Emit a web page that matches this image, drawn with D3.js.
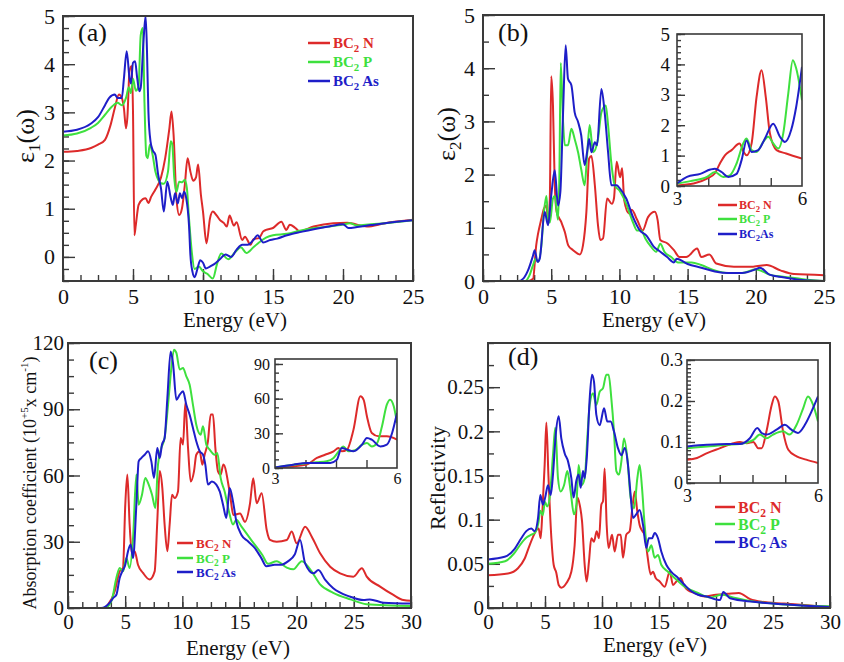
<!DOCTYPE html>
<html><head><meta charset="utf-8">
<script src="https://cdn.jsdelivr.net/npm/d3@7/dist/d3.min.js"></script>
<style>body{margin:0;background:#fff} svg{display:block} svg text, svg tspan{font-family:"Liberation Serif", Tinos, serif !important}</style>
</head><body><svg id="c" width="844" height="662" font-family="Liberation Serif"></svg>
<script>
// ---------- series names / colours ----------
const seriesLabels = [["BC","2"," N"],["BC","2"," P"],["BC","2"," As"]];
const seriesLabelsB = [["BC","2"," N"],["BC","2"," P"],["BC","2","As"]];
const seriesColors = ["#dd2a2a","#3ee03e","#1e1ec8"];

// ---------- (a) real part eps1 ----------
const eps1_BC2N = [[0,2.18],[1,2.2],[2,2.26],[2.5,2.33],[3,2.43],[3.4,2.74],[3.7,3.09],[4.0,3.37],[4.2,3.3],[4.35,3.09],[4.5,2.67],[4.6,2.9],[4.75,3.85],[4.9,3.96],[5.0,3.02],[5.1,0.45],[5.2,0.66],[5.4,1.08],[5.7,1.2],[5.9,1.22],[6.1,1.12],[6.3,1.25],[6.6,1.4],[7.0,1.65],[7.3,2.05],[7.6,2.67],[7.75,3.02],[7.9,2.53],[8.1,1.22],[8.3,0.87],[8.5,1.01],[8.7,1.49],[8.9,2.05],[9.1,1.77],[9.3,1.58],[9.5,1.65],[9.65,1.92],[9.85,1.29],[10.0,0.94],[10.25,0.28],[10.5,0.8],[10.7,0.94],[11.0,0.85],[11.2,0.77],[11.5,0.7],[11.7,0.63],[11.9,0.86],[12.2,0.65],[12.4,0.72],[12.8,0.35],[13.0,0.42],[13.4,0.25],[13.6,0.37],[14.0,0.39],[14.3,0.53],[14.5,0.56],[15.0,0.6],[15.6,0.73],[15.95,0.56],[16.2,0.67],[16.6,0.6],[16.9,0.53],[17.9,0.63],[19.3,0.7],[20.3,0.71],[21.7,0.63],[23,0.7],[25,0.77]];
const eps1_BC2P = [[0,2.52],[1,2.56],[2,2.68],[2.5,2.78],[3,2.95],[3.5,3.12],[3.9,3.2],[4.2,3.15],[4.5,3.3],[4.7,3.52],[4.85,3.4],[5.0,3.7],[5.2,3.45],[5.4,3.55],[5.55,4.6],[5.7,4.75],[5.82,3.2],[5.95,2.1],[6.05,2.05],[6.2,2.33],[6.4,2.12],[6.6,1.77],[6.8,1.6],[7.0,1.53],[7.2,1.52],[7.5,1.77],[7.7,2.4],[7.8,2.35],[7.95,1.63],[8.1,1.35],[8.3,1.56],[8.5,1.55],[8.7,1.6],[8.85,1.42],[9.0,0.8],[9.2,0.1],[9.4,-0.25],[9.7,-0.2],[10.0,-0.3],[10.3,-0.35],[10.7,-0.45],[11.0,-0.15],[11.3,0.07],[11.8,-0.05],[12.3,0.1],[12.7,0.2],[13.1,0.08],[13.6,0.2],[14,0.3],[14.5,0.4],[15,0.45],[16,0.48],[17,0.55],[18,0.6],[19,0.63],[20,0.67],[20.5,0.7],[21,0.65],[22,0.68],[23,0.7],[25,0.76]];
const eps1_BC2As = [[0,2.6],[1,2.64],[2,2.77],[2.5,2.9],[3,3.15],[3.3,3.3],[3.7,3.37],[3.9,3.3],[4.2,3.3],[4.35,3.7],[4.55,4.27],[4.75,3.71],[4.85,3.6],[5.0,4.03],[5.15,4.06],[5.3,3.71],[5.45,3.44],[5.55,3.51],[5.75,4.48],[5.9,5.0],[6.0,4.27],[6.1,3.02],[6.25,2.4],[6.4,2.22],[6.6,2.12],[6.8,1.7],[7.0,1.42],[7.2,0.94],[7.45,1.56],[7.7,1.22],[7.85,1.08],[8.0,1.32],[8.2,1.11],[8.35,1.32],[8.5,1.22],[8.65,1.35],[8.8,1.22],[9.0,0.66],[9.1,0.04],[9.25,-0.31],[9.4,-0.42],[9.6,-0.25],[9.8,-0.07],[10.0,-0.12],[10.2,-0.24],[10.5,-0.2],[10.8,-0.15],[11.2,-0.05],[11.6,0.05],[12,0.0],[12.4,0.15],[12.8,0.25],[13.2,0.25],[13.6,0.35],[13.9,0.45],[14.3,0.3],[14.8,0.35],[15.3,0.38],[16,0.45],[17,0.52],[18,0.58],[19,0.63],[20,0.68],[20.4,0.6],[21,0.62],[22,0.66],[23,0.7],[25,0.76]];

// ---------- (b) imaginary part eps2 ----------
const eps2_BC2N = [[0,0],[3.3,0],[3.67,0.04],[3.9,0.67],[4.03,0.88],[4.28,1.17],[4.47,1.36],[4.65,1.42],[4.77,1.1],[4.9,1.55],[5.0,3.85],[5.13,3.3],[5.25,1.92],[5.4,1.3],[5.75,1.1],[6.0,0.92],[6.25,0.67],[6.6,0.58],[7.1,0.5],[7.33,0.67],[7.58,1.3],[7.78,2.3],[7.95,2.35],[8.2,1.8],[8.43,1.05],[8.6,0.77],[8.8,0.8],[9.1,1.55],[9.45,1.45],[9.6,1.55],[9.8,2.24],[10.05,1.95],[10.2,2.12],[10.35,1.52],[10.7,1.27],[10.9,1.34],[11.3,1.15],[11.7,0.95],[12.1,1.2],[12.6,1.3],[12.8,1.15],[13.0,0.77],[13.5,0.71],[14.0,0.58],[14.4,0.45],[14.9,0.45],[15.7,0.61],[16.0,0.45],[16.6,0.5],[17.1,0.33],[18.4,0.27],[19.8,0.27],[20.8,0.3],[21.8,0.2],[22.8,0.13],[25,0.11]];
const eps2_BC2P = [[0,0],[3.1,0],[3.4,0.1],[3.67,0.3],[3.86,0.42],[4.03,0.36],[4.28,0.67],[4.47,1.3],[4.65,1.6],[4.77,1.17],[4.9,1.1],[5.13,1.55],[5.26,1.6],[5.5,1.15],[5.6,2.0],[5.7,4.1],[5.87,2.99],[6.0,2.55],[6.23,2.55],[6.48,2.86],[6.72,2.67],[6.97,2.42],[7.2,2.1],[7.45,1.8],[7.63,2.36],[7.82,2.93],[8.07,2.42],[8.43,2.67],[8.68,3.17],[9.0,3.3],[9.17,2.93],[9.4,2.24],[9.66,1.8],[10,1.7],[10.5,1.45],[11,1.1],[11.3,0.95],[11.6,0.95],[11.9,0.8],[12.3,0.65],[12.7,0.55],[13,0.7],[13.3,0.55],[13.8,0.45],[14.3,0.35],[14.7,0.35],[15.3,0.35],[16,0.3],[17,0.2],[18,0.15],[19,0.15],[20,0.22],[20.3,0.2],[21,0.12],[22,0.08],[23,0.05],[24,0.02],[25,0.0]];
const eps2_BC2As = [[0,0],[2.6,0],[2.93,0.04],[3.3,0.2],[3.67,0.48],[3.79,0.58],[4.0,0.36],[4.16,0.42],[4.52,1.3],[4.77,1.05],[5.0,1.6],[5.26,2.08],[5.5,1.42],[5.67,1.67],[5.87,3.17],[6.06,4.43],[6.23,3.8],[6.48,3.68],[6.72,3.17],[6.97,2.99],[7.2,2.74],[7.45,2.18],[7.63,2.42],[7.78,2.67],[7.95,2.42],[8.2,2.61],[8.36,2.55],[8.68,3.61],[8.92,3.17],[9.17,2.42],[9.41,1.8],[9.8,1.8],[10,1.75],[10.5,1.55],[11,1.2],[11.5,0.95],[12,0.85],[12.5,0.65],[13,0.55],[13.5,0.45],[14,0.35],[14.2,0.42],[15,0.32],[16,0.25],[17,0.18],[18,0.15],[19,0.15],[20,0.22],[20.3,0.25],[21,0.12],[22,0.07],[23,0.03],[25,0.0]];
const eps2In_BC2N = [[3,0.02],[3.4,0.08],[3.72,0.24],[3.91,0.42],[4.03,0.74],[4.15,1.01],[4.31,1.18],[4.5,1.4],[4.6,1.12],[4.67,1.01],[4.79,1.4],[4.91,2.93],[5.03,3.81],[5.13,2.93],[5.23,1.73],[5.39,1.18],[5.62,1.07],[6,0.9]];
const eps2In_BC2P = [[3,0.08],[3.32,0.16],[3.72,0.3],[3.91,0.46],[4.11,0.3],[4.27,0.35],[4.43,0.74],[4.59,1.4],[4.67,1.56],[4.79,1.18],[4.91,1.12],[5.07,1.45],[5.19,1.62],[5.31,1.4],[5.43,1.23],[5.55,1.73],[5.67,3.04],[5.78,4.14],[5.86,3.87],[6,2.82]];
const eps2In_BC2As = [[3,0.08],[3.24,0.3],[3.56,0.4],[3.8,0.54],[3.91,0.57],[4.07,0.46],[4.23,0.3],[4.43,0.4],[4.55,0.85],[4.67,1.5],[4.79,1.12],[4.95,1.18],[5.11,1.56],[5.31,2.05],[5.47,1.62],[5.59,1.45],[5.74,1.84],[5.86,2.6],[6,3.92]];

// ---------- (c) absorption coefficient ----------
const abs_BC2N = [[0,0],[3.2,0],[3.5,1.5],[4.08,7.5],[4.52,16.6],[4.81,18.1],[5.01,46.8],[5.19,60.4],[5.39,37.8],[5.6,24.2],[5.83,25.7],[6.12,19.6],[6.56,15.9],[7.14,12.9],[7.58,16.6],[7.81,39.3],[8.02,62],[8.25,54.3],[8.45,37.8],[8.69,25.7],[8.89,37.8],[9.1,51.3],[9.33,49.8],[9.62,52.8],[9.85,77],[10.06,74],[10.26,92.8],[10.5,72.4],[10.73,57.3],[11.02,61.9],[11.22,69.4],[11.52,71],[11.75,64.9],[11.95,69.4],[12.24,75.5],[12.48,87.6],[12.68,87.6],[12.89,72.4],[13.12,61.9],[13.35,60.4],[13.59,65],[14.17,51.5],[14.46,42.1],[15.05,42.8],[15.48,39],[15.92,47.4],[16.2,58.7],[16.5,47.4],[16.94,52],[17.38,35.3],[17.67,30.8],[18.25,30],[19.13,30.8],[19.57,34.6],[20,29.3],[20.74,36.8],[21.32,32.3],[22.05,24.8],[22.93,18.7],[23.8,15.7],[24.96,14.2],[25.7,18],[26.13,14.2],[27.3,9.7],[28.46,5.9],[29.34,3.6],[30,3.3]];
const abs_BC2P = [[0,0],[3.2,0],[3.79,3.0],[4.23,13.6],[4.52,18.1],[4.81,16.6],[5.1,22.6],[5.39,18.1],[5.69,31.7],[5.98,60.4],[6.18,46.8],[6.47,51.3],[6.76,58.9],[7.06,55.9],[7.35,51.3],[7.64,45.3],[7.87,64.9],[8.16,72.4],[8.45,77],[8.75,92],[9.04,108.7],[9.27,117],[9.48,115.5],[9.77,108],[10.06,108.7],[10.35,104.9],[10.64,101.1],[10.93,92],[11.22,83],[11.6,78.5],[11.81,82.3],[12.1,74],[12.39,71.7],[12.83,69.4],[13.06,70.2],[13.35,58.9],[13.7,52.8],[14.14,42.3],[14.43,37.8],[14.72,40],[15.16,37],[16,31],[17,24],[17.5,20],[18.25,21.2],[19.13,18.3],[19.7,17.5],[20.45,21.2],[21.18,17.5],[22.05,10.7],[23.2,6.9],[24.7,3.9],[26.1,1.7],[30,0.9]];
const abs_BC2As = [[0,0],[2.9,0],[3.64,2.3],[3.94,4.5],[4.23,6],[4.52,13.6],[4.75,16.6],[5.01,19.6],[5.25,25.7],[5.48,28.7],[5.69,22.6],[5.98,46.8],[6.18,66.4],[6.41,67.9],[6.71,69.4],[7.0,71],[7.29,66.4],[7.52,58.9],[7.81,72.4],[8.02,67.9],[8.22,74],[8.45,77],[8.69,95],[8.98,116.2],[9.18,111],[9.48,94.3],[9.77,96.6],[10.06,98.1],[10.35,92],[10.64,87.5],[10.93,81.5],[11.22,75.5],[11.52,71],[11.81,69.4],[12.01,64.9],[12.24,55.9],[12.59,57.3],[12.97,55.9],[13.27,52.8],[13.56,46.8],[13.85,40.8],[14.14,54.3],[14.43,48.3],[14.72,39.3],[15.16,33.2],[15.74,30.2],[16.33,27.2],[16.91,22.6],[17.35,18.9],[18.08,19.6],[18.66,19.6],[19.24,21.1],[19.83,24.2],[20.3,30.8],[20.74,20.2],[21.47,15.7],[21.9,17.2],[22.5,12.7],[23.2,8.9],[24.7,5.1],[25.84,3.6],[26.4,3.9],[27.6,2.4],[30,2]];
const absIn_BC2N = [[3,0.5],[3.45,1.4],[3.78,2.9],[4.03,8.7],[4.23,11.5],[4.44,14.4],[4.56,17.3],[4.64,14.4],[4.77,15.9],[4.93,33.2],[5.1,62],[5.18,59],[5.26,44.7],[5.38,30.3],[5.55,27.4],[5.75,27.4],[6,24.5]];
const absIn_BC2P = [[3,0.5],[3.62,3.5],[4.03,4.9],[4.27,5.8],[4.44,8.7],[4.6,15.9],[4.68,18.7],[4.81,14.4],[4.97,15.3],[5.14,20.2],[5.26,21.6],[5.38,18.7],[5.51,21.6],[5.63,36],[5.75,54.8],[5.83,59.1],[5.92,53.4],[6,39]];
const absIn_BC2As = [[3,0.5],[3.45,2.9],[3.78,4.3],[4.03,4.3],[4.36,4.3],[4.52,7.2],[4.64,17.3],[4.77,15.9],[4.93,14.4],[5.14,20.2],[5.26,26],[5.38,24.5],[5.59,18.7],[5.75,20.2],[5.88,30.3],[6,47.6]];

// ---------- (d) reflectivity ----------
const refl_BC2N = [[0,0.037],[1.75,0.039],[2.63,0.045],[3.22,0.056],[3.65,0.071],[4.04,0.083],[4.24,0.088],[4.44,0.09],[4.62,0.079],[4.77,0.109],[4.97,0.162],[5.12,0.21],[5.3,0.15],[5.56,0.079],[5.76,0.049],[5.99,0.04],[6.2,0.026],[6.43,0.023],[6.87,0.028],[7.31,0.041],[7.6,0.071],[7.84,0.125],[8.04,0.117],[8.25,0.098],[8.48,0.049],[8.65,0.03],[8.86,0.053],[9.06,0.079],[9.3,0.075],[9.53,0.087],[9.74,0.079],[9.94,0.117],[10.09,0.121],[10.23,0.158],[10.41,0.094],[10.58,0.068],[10.88,0.083],[11.11,0.064],[11.4,0.083],[11.64,0.083],[11.84,0.057],[12.13,0.083],[12.43,0.087],[12.66,0.113],[12.87,0.132],[13.1,0.109],[13.3,0.094],[13.54,0.087],[13.74,0.083],[13.98,0.06],[14.27,0.038],[14.47,0.041],[14.71,0.034],[15.06,0.03],[15.5,0.024],[15.94,0.041],[16.23,0.026],[16.52,0.03],[16.9,0.034],[17.25,0.024],[17.54,0.02],[18.13,0.017],[19,0.013],[20,0.015],[21,0.016],[22,0.017],[23,0.01],[24,0.007],[26,0.005],[28,0.003],[30,0.001]];
const refl_BC2P = [[0,0.05],[1.5,0.053],[2.3,0.062],[2.9,0.073],[3.4,0.08],[3.8,0.083],[4.1,0.085],[4.4,0.095],[4.6,0.11],[4.8,0.105],[5.0,0.12],[5.2,0.115],[5.41,0.125],[5.7,0.173],[5.9,0.204],[6.14,0.147],[6.37,0.132],[6.67,0.139],[6.96,0.155],[7.25,0.132],[7.54,0.106],[7.75,0.117],[7.95,0.162],[8.19,0.139],[8.48,0.147],[8.71,0.192],[8.92,0.23],[9.21,0.243],[9.5,0.23],[9.8,0.245],[10.09,0.249],[10.38,0.264],[10.58,0.264],[10.82,0.237],[11.05,0.2],[11.26,0.155],[11.49,0.151],[11.7,0.166],[11.93,0.192],[12.22,0.17],[12.51,0.125],[12.81,0.113],[13.1,0.147],[13.3,0.162],[13.51,0.136],[13.74,0.094],[14.04,0.064],[14.33,0.071],[14.62,0.057],[14.91,0.06],[15.2,0.049],[15.79,0.041],[16.37,0.034],[17.25,0.024],[18.42,0.017],[19.5,0.012],[20.5,0.015],[21.5,0.012],[23,0.008],[26,0.004],[30,0.002]];
const refl_BC2As = [[0,0.055],[1.46,0.058],[2.34,0.067],[2.92,0.079],[3.36,0.087],[3.8,0.09],[4.09,0.087],[4.39,0.102],[4.59,0.128],[4.82,0.117],[5.03,0.126],[5.26,0.139],[5.5,0.128],[5.7,0.151],[5.94,0.196],[6.2,0.217],[6.43,0.192],[6.73,0.175],[7.02,0.166],[7.31,0.147],[7.51,0.125],[7.75,0.144],[7.95,0.151],[8.13,0.136],[8.33,0.155],[8.48,0.147],[8.68,0.173],[8.92,0.237],[9.12,0.264],[9.3,0.256],[9.5,0.219],[9.8,0.207],[10.18,0.226],[10.47,0.211],[10.76,0.211],[11.05,0.2],[11.4,0.181],[11.7,0.173],[12.0,0.181],[12.28,0.162],[12.51,0.128],[12.72,0.102],[13.0,0.106],[13.3,0.111],[13.6,0.094],[13.89,0.068],[14.1,0.079],[14.39,0.079],[14.62,0.085],[14.91,0.079],[15.2,0.064],[15.64,0.049],[16.08,0.041],[16.67,0.034],[17.25,0.026],[17.84,0.019],[18.42,0.015],[19.18,0.013],[20.35,0.009],[20.64,0.018],[21.23,0.011],[23.27,0.007],[26.2,0.004],[30,0.001]];
const reflIn_BC2N = [[3,0.057],[3.23,0.061],[3.46,0.073],[3.76,0.085],[4.06,0.097],[4.21,0.1],[4.37,0.097],[4.52,0.1],[4.63,0.085],[4.71,0.085],[4.82,0.126],[4.94,0.19],[5.01,0.211],[5.09,0.199],[5.2,0.126],[5.32,0.081],[5.51,0.065],[5.73,0.057],[6,0.049]];
const reflIn_BC2P = [[3,0.085],[3.46,0.089],[3.91,0.093],[4.21,0.095],[4.52,0.105],[4.67,0.118],[4.82,0.109],[4.97,0.118],[5.2,0.126],[5.35,0.118],[5.51,0.142],[5.66,0.182],[5.77,0.211],[5.89,0.19],[6,0.15]];
const reflIn_BC2As = [[3,0.089],[3.46,0.093],[3.91,0.095],[4.21,0.095],[4.44,0.109],[4.61,0.134],[4.71,0.122],[4.82,0.118],[5.05,0.13],[5.24,0.142],[5.39,0.13],[5.54,0.122],[5.7,0.142],[5.85,0.174],[6,0.211]];

// ---------- tick labels ----------
const ticksE25 = [0,5,10,15,20,25];
const ticksE30 = [0,5,10,15,20,25,30];
const ticksEps = [0,1,2,3,4,5];
const ticksAbs = [0,30,60,90,120];
const ticksRefl = [0,0.05,0.1,0.15,0.2,0.25];
const ticksInsetE = [3,6];
const ticksAbsIn = [0,30,60,90];
const ticksReflIn = [0,0.1,0.2,0.3];

// ---------- drawing ----------
const svg = d3.select("#c");
const SERIF = '"Liberation Serif", Tinos, serif';
const FRAME = "#3a3a3a";
let clipN = 0;

function tickMarks(sel){
  sel.select(".domain").remove();
  sel.attr("font-family", null).attr("font-size", null);
  sel.selectAll(".tick text").remove();
  sel.selectAll(".tick line").attr("stroke", FRAME).attr("stroke-width", 1.4);
}
function tickLabels(sel, fs){
  sel.select(".domain").remove();
  sel.attr("font-family", null).attr("font-size", null);
  sel.selectAll(".tick line").remove();
  sel.selectAll(".tick text").attr("fill", "#111").attr("font-size", fs).style("font-family", SERIF);
}

function drawPanel(p){
  const x = d3.scaleLinear().domain(p.xDomain).range([p.left, p.right]);
  const y = d3.scaleLinear().domain(p.yDomain).range([p.bottom, p.top]);
  const g = svg.append("g");
  if (p.inset) g.append("rect").attr("x",p.left).attr("y",p.top).attr("width",p.right-p.left).attr("height",p.bottom-p.top).attr("fill","#fff");
  const cid = "clip" + (clipN++);
  svg.append("clipPath").attr("id", cid).append("rect")
    .attr("x",p.left).attr("y",p.top).attr("width",p.right-p.left).attr("height",p.bottom-p.top);
  if (p.xMinor.length) g.append("g").attr("transform",`translate(0,${p.bottom})`)
    .call(d3.axisBottom(x).tickValues(p.xMinor).tickSize(-p.minorLen)).call(tickMarks);
  g.append("g").attr("transform",`translate(${p.left},0)`)
    .call(d3.axisLeft(y).tickValues(p.yMinor).tickSize(-p.minorLen)).call(tickMarks);
  g.append("g").attr("transform",`translate(0,${p.bottom})`)
    .call(d3.axisBottom(x).tickValues(p.xMajorTicks).tickSize(-p.majorLen)).call(tickMarks);
  g.append("g").attr("transform",`translate(${p.left},0)`)
    .call(d3.axisLeft(y).tickValues(p.yMajorTicks).tickSize(-p.majorLen)).call(tickMarks);
  g.append("g").attr("transform",`translate(0,${p.bottom})`)
    .call(d3.axisBottom(x).tickValues(p.xLabels).tickSize(0).tickPadding(p.xPad).tickFormat(d3.format("~g")))
    .call(s=>tickLabels(s,p.fs));
  g.append("g").attr("transform",`translate(${p.left},0)`)
    .call(d3.axisLeft(y).tickValues(p.yLabels).tickSize(0).tickPadding(p.yPad).tickFormat(d3.format("~g")))
    .call(s=>tickLabels(s,p.fs));
  const line = d3.line().x(d=>x(d[0])).y(d=>y(d[1])).curve(d3.curveMonotoneX);
  p.series.forEach((s,i)=>{
    g.append("path").attr("d", line(s)).attr("fill","none")
      .attr("stroke", seriesColors[i]).attr("stroke-width", p.lw).attr("stroke-linejoin","round")
      .attr("clip-path", `url(#${cid})`);
  });
  g.append("rect").attr("x",p.left).attr("y",p.top).attr("width",p.right-p.left).attr("height",p.bottom-p.top)
    .attr("fill","none").attr("stroke",FRAME).attr("stroke-width",p.inset?1.6:2);
}

function txt(x, y, fs, opts={}){
  const t = svg.append("text").attr("x",x).attr("y",y).attr("font-size",fs)
    .attr("fill", opts.fill||"#111").attr("text-anchor",opts.anchor||"middle")
    .style("font-family", SERIF);
  if (opts.bold) t.attr("font-weight","bold");
  if (opts.rotate) t.attr("transform",`rotate(-90,${x},${y})`);
  return t;
}

function legend(x1, x2, tx, ys, fs, labels){
  labels.forEach((lab,i)=>{
    svg.append("line").attr("x1",x1).attr("x2",x2).attr("y1",ys[i]).attr("y2",ys[i])
      .attr("stroke",seriesColors[i]).attr("stroke-width",2.5);
    const t = txt(tx, ys[i] + fs*0.35, fs, {anchor:"start", bold:true, fill:seriesColors[i]});
    t.append("tspan").text(lab[0]);
    t.append("tspan").attr("dy", fs*0.25).attr("font-size", fs*0.72).text(lab[1]);
    t.append("tspan").attr("dy", -fs*0.25).text(lab[2]);
  });
}

const rng = (a,b,s)=>d3.range(a, b+s/2, s);

// (a)
drawPanel({left:63,right:413,top:16,bottom:281,xDomain:[0,25],yDomain:[-0.5,5],
  xMinor:rng(0,25,1.25),yMinor:rng(-0.5,5,0.25),xMajorTicks:ticksE25,yMajorTicks:ticksEps,
  xLabels:ticksE25,yLabels:ticksEps,xPad:7,yPad:8,fs:22,
  minorLen:6,majorLen:12,lw:2,series:[eps1_BC2N,eps1_BC2P,eps1_BC2As]});
// (b)
drawPanel({left:483,right:824,top:15,bottom:281,xDomain:[0,25],yDomain:[0,5],
  xMinor:rng(0,25,1.25),yMinor:rng(0,5,0.5),xMajorTicks:ticksE25,yMajorTicks:ticksEps,
  xLabels:ticksE25,yLabels:ticksEps,xPad:7,yPad:8,fs:22,
  minorLen:6,majorLen:12,lw:2,series:[eps2_BC2N,eps2_BC2P,eps2_BC2As]});
drawPanel({inset:true,left:677,right:802,top:34,bottom:186,xDomain:[3,6],yDomain:[0,5],
  xMinor:[],yMinor:rng(0,5,0.2),xMajorTicks:[3.75,4.5,5.25],yMajorTicks:ticksEps,
  xLabels:ticksInsetE,yLabels:ticksEps,xPad:6,yPad:7,fs:19,
  minorLen:4,majorLen:8,lw:2,series:[eps2In_BC2N,eps2In_BC2P,eps2In_BC2As]});
// (c)
drawPanel({left:68,right:411,top:343,bottom:608,xDomain:[0,30],yDomain:[0,120],
  xMinor:rng(0,30,1.25),yMinor:rng(0,120,7.5),xMajorTicks:ticksE30,yMajorTicks:ticksAbs,
  xLabels:ticksE30,yLabels:ticksAbs,xPad:6,yPad:4,fs:21,
  minorLen:6,majorLen:12,lw:2,series:[abs_BC2N,abs_BC2P,abs_BC2As]});
drawPanel({inset:true,left:275,right:397,top:359,bottom:468,xDomain:[3,6],yDomain:[0,94.3],
  xMinor:[],yMinor:rng(0,90,7.5),xMajorTicks:[3.75,4.5,5.25],yMajorTicks:ticksAbsIn,
  xLabels:ticksInsetE,yLabels:ticksAbsIn,xPad:5,yPad:5,fs:16,
  minorLen:4,majorLen:8,lw:2,series:[absIn_BC2N,absIn_BC2P,absIn_BC2As]});
// (d)
drawPanel({left:488,right:830,top:343,bottom:608,xDomain:[0,30],yDomain:[0,0.3],
  xMinor:rng(0,30,1.25),yMinor:rng(0,0.3,0.025),xMajorTicks:ticksE30,yMajorTicks:ticksRefl,
  xLabels:ticksE30,yLabels:ticksRefl,xPad:6,yPad:4,fs:21,
  minorLen:6,majorLen:12,lw:2,series:[refl_BC2N,refl_BC2P,refl_BC2As]});
drawPanel({inset:true,left:687,right:818,top:360,bottom:483,xDomain:[3,6],yDomain:[0,0.3],
  xMinor:[],yMinor:rng(0,0.3,0.01),xMajorTicks:[3.75,4.5,5.25],yMajorTicks:ticksReflIn,
  xLabels:ticksInsetE,yLabels:ticksReflIn,xPad:6,yPad:4,fs:18,
  minorLen:4,majorLen:8,lw:2,series:[reflIn_BC2N,reflIn_BC2P,reflIn_BC2As]});

// legends
legend(308,330,333,[43,62,81],15,seriesLabels);
legend(718,737,739,[205,219,234],12,seriesLabelsB);
legend(177,193,196,[543,558,572],13,seriesLabels);
legend(715,735,738,[507,524,542],16,seriesLabels);

// panel tags
txt(78,41,26,{anchor:"start"}).text("(a)");
txt(498,41,26,{anchor:"start"}).text("(b)");
txt(89,369,26,{anchor:"start"}).text("(c)");
txt(508,365,26,{anchor:"start"}).text("(d)");

// axis titles
txt(235,327,21).text("Energy (eV)");
txt(654,327,21).text("Energy (eV)");
txt(238,655,21).text("Energy (eV)");
txt(655,652,21).text("Energy (eV)");

function epsLabel(x, y, sub){
  const t = txt(x, y, 26, {rotate:true});
  t.append("tspan").text("ε");
  t.append("tspan").attr("dy",6).attr("font-size",17).text(sub);
  t.append("tspan").attr("dy",-6).text("(ω)");
}
epsLabel(34,136,"1");
epsLabel(455,134,"2");
{
  const t = txt(36,483,18,{rotate:true});
  t.append("tspan").text("Absorption coefficient (10");
  t.append("tspan").attr("dy",-8).attr("font-size",11).text("+5");
  t.append("tspan").attr("dy",8).text("x cm");
  t.append("tspan").attr("dy",-8).attr("font-size",11).text("-1");
  t.append("tspan").attr("dy",8).text(")");
}
txt(445,478,22,{rotate:true}).text("Reflectivity");
</script></body></html>
